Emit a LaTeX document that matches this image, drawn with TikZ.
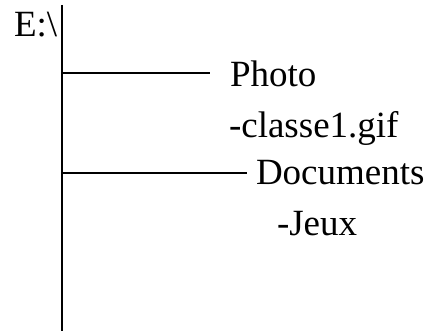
\documentclass[tikz,border=0pt]{standalone}
\usepackage{fontspec}
\setmainfont{Liberation Serif}
\tikzset{entry/.style={anchor=base west,inner sep=0pt,font=\fontsize{37}{40}\selectfont}}
\begin{document}
\begin{tikzpicture}[x=1pt,y=-1pt,line width=2pt]
      \useasboundingbox (0,0) rectangle (427,331);
      \draw
        (13,37) node[entry] (drive){E:\textbackslash}
        (229,87) node[entry] (photo){Photo}
        (228,137) node[entry] (gif){-classe1.gif}
        (255,184) node[entry] (docs){Documents}
        (276,235) node[entry] (jeux){-Jeux};
      \coordinate (top) at (62,5);
      \coordinate (bottom) at (62,331);
      \coordinate (b1) at (62,73);
      \coordinate (e1) at (210,73);
      \coordinate (b2) at (62,173);
      \coordinate (e2) at (247,173);
      \begin{scope}[-]
        \draw (top) to (bottom);
        \draw (b1) to (e1);
        \draw (b2) to (e2);
      \end{scope}
    \end{tikzpicture}
\end{document}
